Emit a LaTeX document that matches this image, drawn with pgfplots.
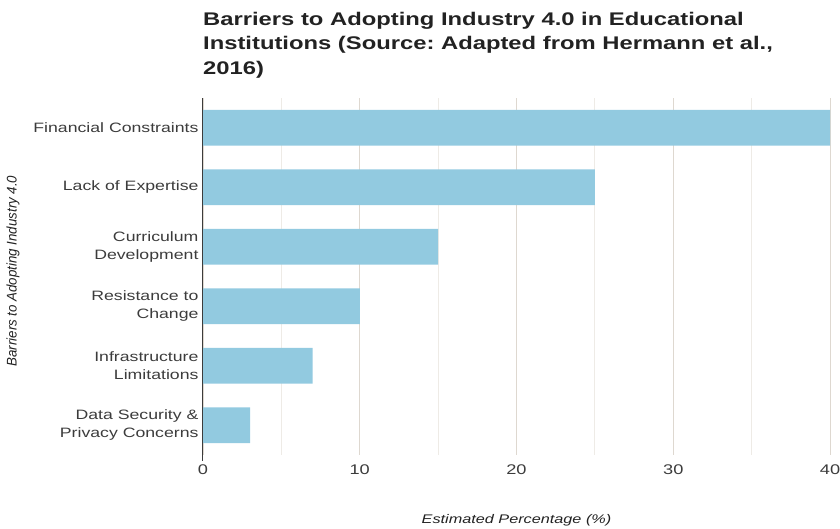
\documentclass[border=0pt]{standalone}
\usepackage{pgfplots}
\pgfplotsset{compat=1.18}
\usepackage{fontspec}
\setmainfont{Liberation Sans}[FakeStretch=1.3]
\newfontfamily\ylabfont{Liberation Sans}[FakeStretch=0.95]
\definecolor{barblue}{RGB}{146,202,224}
\definecolor{gridmaj}{RGB}{222,216,208}
\definecolor{gridmin}{RGB}{238,235,230}
\definecolor{txt}{RGB}{60,60,60}
\definecolor{ttl}{RGB}{34,34,34}
\frenchspacing
\begin{document}
\begin{tikzpicture}
\useasboundingbox (-203pt,-74pt) rectangle (637pt,455pt);
\node[anchor=north west, inner sep=0pt, align=left, text=ttl,
      font=\fontsize{18.3}{24.5}\selectfont\bfseries] at (0pt,443pt)
  {Barriers to Adopting Industry 4.0 in Educational\\Institutions (Source: Adapted from Hermann et al.,\\2016)};
\node[rotate=90, anchor=center, inner sep=0pt, text=ttl,
      font=\fontsize{14}{16}\ylabfont\itshape] at (-190pt,184pt)
  {Barriers to Adopting Industry 4.0};
\begin{axis}[
  at={(0pt,0pt)}, anchor=south west,
  scale only axis, width=627pt, height=357pt,
  xbar, bar width=0.6,
  xmin=0, xmax=40, ymin=-0.5, ymax=5.5,
  y dir=reverse,
  ytick={0,1,2,3,4,5},
  yticklabels={Financial Constraints, Lack of Expertise, Curriculum\\Development, Resistance to\\Change, Infrastructure\\Limitations, Data Security \&\\Privacy Concerns},
  yticklabel style={align=right, font=\fontsize{13.6}{18}\selectfont, text=txt, xshift=-1pt},
  xtick={0,10,20,30,40},
  minor x tick num=1,
  xmajorgrids, xminorgrids,
  major grid style={gridmaj, line width=0.8pt},
  minor grid style={gridmin, line width=0.8pt},
  major tick length=0pt, minor tick length=0pt,
  axis line style={draw=none},
  /pgf/number format/assume math mode=true,
  xticklabel style={font=\fontsize{14}{16}\selectfont, text=txt, yshift=-6pt},
  xlabel={Estimated Percentage (\%)},
  every axis x label/.style={at={(axis description cs:0.5,0)}, anchor=center, yshift=-65pt, font=\fontsize{12.5}{14}\selectfont\itshape, text=ttl},
  clip=false,
]
\addplot[fill=barblue, draw=none] coordinates {(40,0) (25,1) (15,2) (10,3) (7,4) (3,5)};
\draw[txt, line width=1pt] (axis cs:0,-0.5) -- (axis cs:0,5.6);
\end{axis}
\end{tikzpicture}
\end{document}
